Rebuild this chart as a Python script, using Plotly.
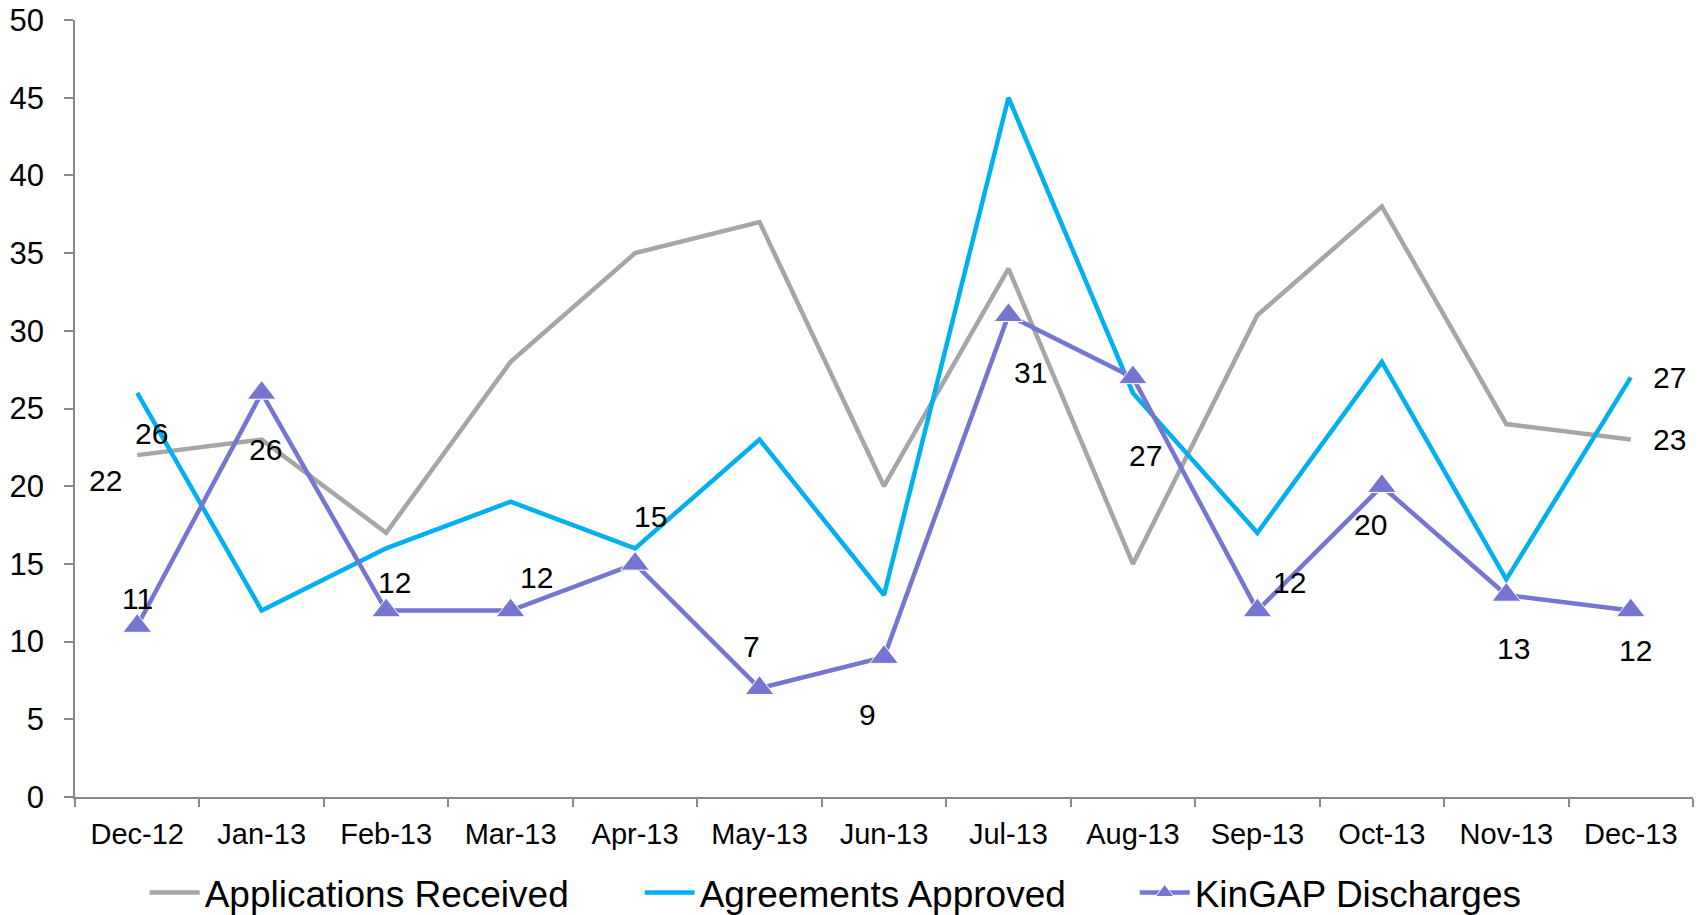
import plotly.graph_objects as go

# ---- data ----
months = ["Dec-12", "Jan-13", "Feb-13", "Mar-13", "Apr-13", "May-13", "Jun-13",
          "Jul-13", "Aug-13", "Sep-13", "Oct-13", "Nov-13", "Dec-13"]
applications_received = [22, 23, 17, 28, 35, 37, 20, 34, 15, 31, 38, 24, 23]
agreements_approved = [26, 12, 16, 19, 16, 23, 13, 45, 26, 17, 28, 14, 27]
kingap_discharges = [11, 26, 12, 12, 15, 7, 9, 31, 27, 12, 20, 13, 12]
y_ticks = [0, 5, 10, 15, 20, 25, 30, 35, 40, 45, 50]

# ---- style ----
GRAY = "#A6A6A6"
CYAN = "#00B0F0"
PURPLE = "#7676D2"
AXIS = "#898989"
FONT = "Liberation Sans, Arial, sans-serif"

# label pixel offsets (dx right, dy down) per point index
gray_label_offsets = {0: (-32, 25), 12: (39, 0)}
cyan_label_offsets = {0: (14, 41), 12: (39, 0)}
purple_label_offsets = {0: (0, -28), 1: (4, 57), 2: (8, -28), 3: (26, -33),
                        4: (15, -47), 5: (-8, -42), 6: (-17, 57), 7: (22, 57),
                        8: (13, 78), 9: (32, -28), 10: (-11, 38), 11: (7, 54),
                        12: (5, 40)}

fig = go.Figure()
fig.add_trace(go.Scatter(x=months, y=applications_received, mode="lines",
                         name="Applications Received",
                         line=dict(color=GRAY, width=4.5)))
fig.add_trace(go.Scatter(x=months, y=agreements_approved, mode="lines",
                         name="Agreements Approved",
                         line=dict(color=CYAN, width=4.5)))
fig.add_trace(go.Scatter(x=months, y=kingap_discharges, mode="lines+markers",
                         name="KinGAP Discharges",
                         line=dict(color=PURPLE, width=4.5),
                         marker=dict(symbol="triangle-up", size=25, color=PURPLE,
                                     line=dict(color="white", width=1))))

annotations = []
for series, offsets in ((applications_received, gray_label_offsets),
                        (agreements_approved, cyan_label_offsets),
                        (kingap_discharges, purple_label_offsets)):
    for i, (dx, dy) in offsets.items():
        annotations.append(dict(x=months[i], y=series[i], xref="x", yref="y",
                                text=str(series[i]), showarrow=False,
                                xshift=dx, yshift=-dy,
                                font=dict(size=30, color="black", family=FONT)))

fig.update_layout(
    width=1702, height=915,
    margin=dict(l=75, r=9, t=20, b=118, autoexpand=False),
    plot_bgcolor="white", paper_bgcolor="white",
    font=dict(family=FONT, color="black"),
    annotations=annotations,
    showlegend=True,
    legend=dict(orientation="h", xref="container", yref="container",
                x=0.085, y=0.024, xanchor="left", yanchor="middle",
                font=dict(size=37, family=FONT, color="black"),
                entrywidth=430, entrywidthmode="pixels",
                itemwidth=50, tracegroupgap=0,
                bgcolor="rgba(0,0,0,0)"),
    xaxis=dict(type="category", range=[-0.5, 12.5], tickson="boundaries",
               ticks="outside", ticklen=8, tickcolor=AXIS, tickwidth=1.5,
               showline=True, linecolor=AXIS, linewidth=1.5, automargin=False,
               showgrid=False, zeroline=False, ticklabelstandoff=10,
               tickfont=dict(size=29, family=FONT, color="black")),
    yaxis=dict(range=[0, 50], tickvals=y_ticks, automargin=False,
               ticks="outside", ticklen=9, tickcolor=AXIS, tickwidth=1.5,
               showline=True, linecolor=AXIS, linewidth=1.5,
               showgrid=False, zeroline=False, ticklabelstandoff=14,
               tickfont=dict(size=31, family=FONT, color="black")),
)

fig.write_html("out.html", config={"displayModeBar": False},
               post_script="document.body.style.margin='0';document.body.style.overflow='hidden';")
